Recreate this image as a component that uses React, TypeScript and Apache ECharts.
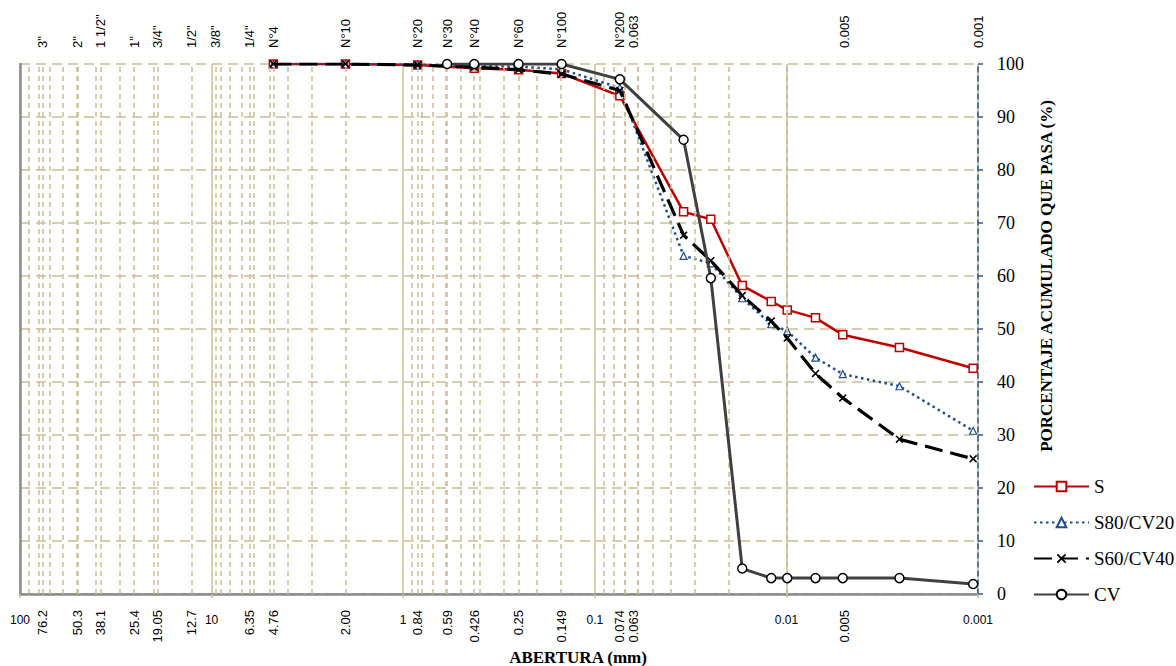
import { useEffect, useRef } from "react";
import * as echarts from "echarts";

// Sieve openings (mm) used by the mixed soils and by the clay
const sieveSizes = [4.76, 2.0, 0.84, 0.426, 0.25, 0.149, 0.074];
const sieveSizesCV = [0.59, 0.426, 0.25, 0.149, 0.074];
// Hydrometer particle diameters (mm)
const hydroSizes = [0.0344, 0.0248, 0.017, 0.012, 0.0099, 0.00705, 0.00508, 0.00257, 0.00106];

// Percentage passing
const sSieve = [100, 100, 99.8, 99.2, 98.9, 98.2, 94.0];
const sHydro = [72.1, 70.7, 58.2, 55.2, 53.6, 52.1, 48.9, 46.5, 42.6];
const s80Sieve = [100, 100, 99.9, 99.6, 99.5, 99.0, 95.5];
const s80Hydro = [63.8, 62.4, 55.8, 50.9, 49.6, 44.6, 41.5, 39.2, 30.8];
const s60Sieve = [100, 100, 99.8, 99.4, 98.9, 98.1, 95.0];
const s60Hydro = [67.7, 62.9, 56.3, 51.5, 48.3, 41.6, 37.0, 29.2, 25.5];
const cvSieve = [100, 100, 100, 100, 97.1];
const cvHydro = [85.7, 59.6, 4.8, 3.0, 3.0, 3.0, 3.0, 3.0, 1.9];

const seriesNames = ["S", "S80/CV20", "S60/CV40", "CV"];

// Sieve designations along the top edge
const topNames = ['3"', '2"', '1 1/2"', '1"', '3/4"', '1/2"', '3/8"', '1/4"', "N°4", "N°10", "N°20", "N°30", "N°40", "N°60", "N°100", "N°200", "0.063", "0.005", "0.001"];
const topSizes = [76.2, 50.3, 38.1, 25.4, 19.05, 12.7, 9.5, 6.35, 4.76, 2.0, 0.84, 0.59, 0.426, 0.25, 0.149, 0.074, 0.063, 0.005, 0.001];
// Openings written under the bottom edge
const bottomLabels = ["76.2", "50.3", "38.1", "25.4", "19.05", "12.7", "6.35", "4.76", "2.00", "0.84", "0.59", "0.426", "0.25", "0.149", "0.074", "0.063", "0.005"];

// Extra vertical guide lines: every sieve opening
const guideSizes = [76.2, 50.3, 38.1, 25.4, 19.05, 12.7, 9.5, 6.35, 4.76, 0.84, 0.59, 0.426, 0.25, 0.149, 0.074, 0.063];

const TAN = "#cbbf94";
const SERIF = "'Liberation Serif', 'Times New Roman', serif";

function zip(xs: number[], ys: number[]) {
  return xs.map((x, i) => [x, ys[i]]);
}

function minorLogValues(): number[] {
  const out: number[] = [];
  for (let e = -3; e <= 1; e++) {
    for (let m = 2; m <= 9; m++) out.push(+(m * Math.pow(10, e)).toPrecision(3));
  }
  return out;
}

const crossPath =
  "path://M0,1.4L1.4,0L5,3.6L8.6,0L10,1.4L6.4,5L10,8.6L8.6,10L5,6.4L1.4,10L0,8.6L3.6,5Z";

export default function App() {
  const ref = useRef<HTMLDivElement>(null);

  useEffect(() => {
    if (!ref.current) return;
    const chart = echarts.init(ref.current, undefined, { renderer: "svg" });

    const logAxisBase = {
      type: "log" as const,
      logBase: 10,
      min: 0.001,
      max: 100,
      inverse: true,
    };

    const option: any = {
      animation: false,
      backgroundColor: "#ffffff",
      grid: { left: 20, right: 198, top: 64, bottom: 72, containLabel: false },
      xAxis: [
        {
          ...logAxisBase,
          position: "bottom",
          axisLine: { show: true, lineStyle: { color: "#8496b0", width: 1.5, type: [5, 4] } },
          axisTick: { show: true, length: 4, lineStyle: { color: TAN, width: 1.5 } },
          axisLabel: {
            margin: 20,
            fontFamily: "Liberation Sans",
            fontSize: 12,
            color: "#000",
            showMinLabel: true,
            showMaxLabel: true,
            formatter: (v: number) => String(Number(v.toPrecision(3))),
          },
          splitLine: { show: true, lineStyle: { color: TAN, width: 1.5, type: "solid" } },
        },
        {
          ...logAxisBase,
          position: "top",
          axisLine: { show: true, lineStyle: { color: "#8c8c8c", width: 2.5 } },
          axisTick: { show: false },
          axisLabel: { show: false },
          splitLine: { show: false },
        },
      ],
      yAxis: [
        {
          type: "value",
          position: "right",
          min: 0,
          max: 100,
          interval: 10,
          axisLine: { show: true, lineStyle: { color: "#2f5597", width: 1.5, type: [5, 4] } },
          axisTick: { show: true, length: 5, lineStyle: { color: "#2f5597", width: 1.5 } },
          axisLabel: {
            margin: 19,
            fontFamily: SERIF,
            fontSize: 18,
            color: "#000",
          },
          splitLine: { show: true, lineStyle: { color: TAN, width: 1.5, type: [10, 6] } },
        },
        {
          type: "value",
          position: "left",
          min: 0,
          max: 100,
          interval: 10,
          axisLine: { show: true, lineStyle: { color: "#8c8c8c", width: 2.5 } },
          axisTick: { show: false },
          axisLabel: { show: false },
          splitLine: { show: false },
        },
      ],
      legend: {
        data: seriesNames,
        orient: "vertical",
        left: 1033,
        top: 477,
        padding: 0,
        itemWidth: 55,
        itemHeight: 12,
        itemGap: 17,
        textStyle: { fontFamily: SERIF, fontSize: 19, color: "#000" },
      },
      series: [
        {
          name: "guides",
          type: "line",
          data: [],
          z: 1,
          silent: true,
          markLine: {
            silent: true,
            symbol: ["none", "none"],
            label: { show: false },
            lineStyle: { color: TAN, width: 1.5, type: [5, 4] },
            data: [...minorLogValues(), ...guideSizes].map((v) => ({ xAxis: v })),
          },
        },
        {
          name: "S",
          type: "line",
          z: 3,
          data: zip([...sieveSizes, ...hydroSizes], [...sSieve, ...sHydro]),
          lineStyle: { color: "#c00000", width: 2.5 },
          symbol: "rect",
          symbolSize: 8,
          itemStyle: { color: "#ffffff", borderColor: "#c00000", borderWidth: 1.5 },
        },
        {
          name: "S80/CV20",
          type: "line",
          z: 4,
          data: zip([...sieveSizes, ...hydroSizes], [...s80Sieve, ...s80Hydro]),
          lineStyle: { color: "#1f4e8c", width: 2.5, type: [2.5, 3.5] },
          symbol: "triangle",
          symbolSize: 7,
          itemStyle: { color: "#ffffff", borderColor: "#1f4e8c", borderWidth: 1.2 },
        },
        {
          name: "S60/CV40",
          type: "line",
          z: 5,
          data: zip([...sieveSizes, ...hydroSizes], [...s60Sieve, ...s60Hydro]),
          lineStyle: { color: "#000000", width: 3.2, type: [18, 8] },
          symbol: crossPath,
          symbolSize: 8,
          itemStyle: { color: "#000000", borderWidth: 0 },
        },
        {
          name: "CV",
          type: "line",
          z: 6,
          data: zip([...sieveSizesCV, ...hydroSizes], [...cvSieve, ...cvHydro]),
          lineStyle: { color: "#404040", width: 3 },
          symbol: "circle",
          symbolSize: 9,
          itemStyle: { color: "#ffffff", borderColor: "#000000", borderWidth: 1.5 },
        },
      ],
    };

    chart.setOption(option);

    // Text placed along the log axis using its own scale
    const px = (v: number) => chart.convertToPixel({ xAxisIndex: 0 }, v) as number;
    const labelFont = '13px "Liberation Sans"';
    const graphics: any[] = [];
    topNames.forEach((name, i) => {
      graphics.push({
        type: "text",
        x: px(topSizes[i]),
        y: 48,
        rotation: Math.PI / 2,
        style: { text: name, align: "left", verticalAlign: "middle", font: labelFont, fill: "#000" },
      });
    });
    bottomLabels.forEach((t) => {
      graphics.push({
        type: "text",
        x: px(parseFloat(t)),
        y: 610,
        rotation: Math.PI / 2,
        style: { text: t, align: "right", verticalAlign: "middle", font: labelFont, fill: "#000" },
      });
    });
    graphics.push({
      type: "text",
      x: 578,
      y: 657,
      style: {
        text: "ABERTURA (mm)",
        align: "center",
        verticalAlign: "middle",
        font: 'bold 17px "Liberation Serif"',
        fill: "#000",
      },
    });
    graphics.push({
      type: "text",
      x: 1046,
      y: 276,
      rotation: Math.PI / 2,
      style: {
        text: "PORCENTAJE ACUMULADO QUE PASA (%)",
        align: "center",
        verticalAlign: "middle",
        font: 'bold 17px "Liberation Serif"',
        fill: "#000",
      },
    });
    chart.setOption({ graphic: graphics });

    return () => chart.dispose();
  }, []);

  return (
    <div
      ref={ref}
      style={{ position: "absolute", left: 0, top: 0, width: 1176, height: 666, background: "#fff" }}
    />
  );
}
